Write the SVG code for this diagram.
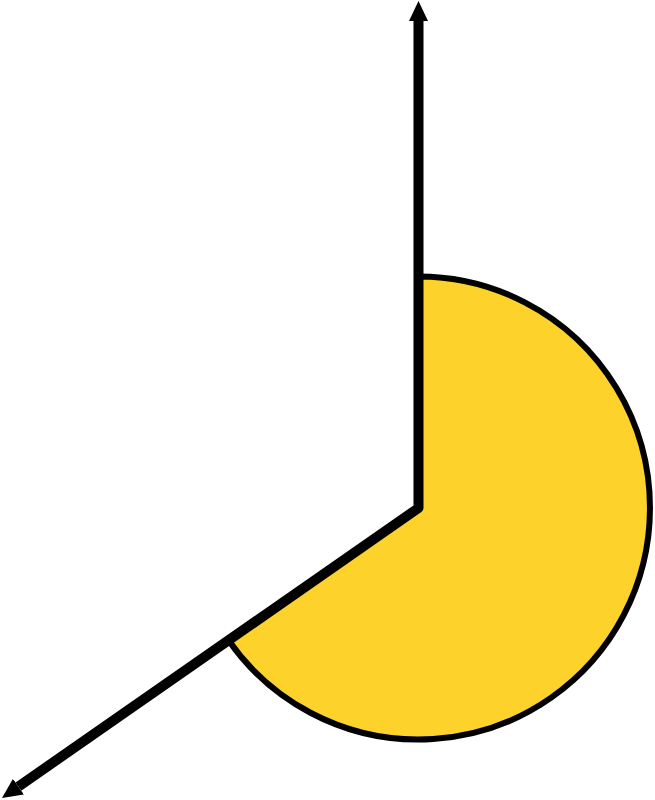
<svg xmlns="http://www.w3.org/2000/svg" width="655" height="800" viewBox="0 0 655 800">
  <style>
    .sector { fill: #FDD22B; stroke: #000; stroke-width: 6; stroke-linejoin: round; }
    .ray { fill: none; stroke: #000; stroke-width: 10; stroke-linejoin: round; }
  </style>
  <defs>
    <marker id="arrow" markerUnits="userSpaceOnUse" viewBox="0 0 20 19" markerWidth="20" markerHeight="19" refX="0" refY="9.5" orient="auto-start-reverse">
      <path d="M0,0 L20,9.5 L0,19 Z" fill="#000"/>
    </marker>
  </defs>
  <rect width="655" height="800" fill="#fff"/>
  <g id="sector">
    <path class="sector" d="M418.5,508 L418.5,276.5 A231.5,231.5 0 1 1 228.5,640.3 Z"/>
  </g>
  <g id="connectors">
    <path class="ray" d="M418.5,21 L418.5,508 L18.4,786.6" marker-start="url(#arrow)" marker-end="url(#arrow)"/>
  </g>
</svg>
